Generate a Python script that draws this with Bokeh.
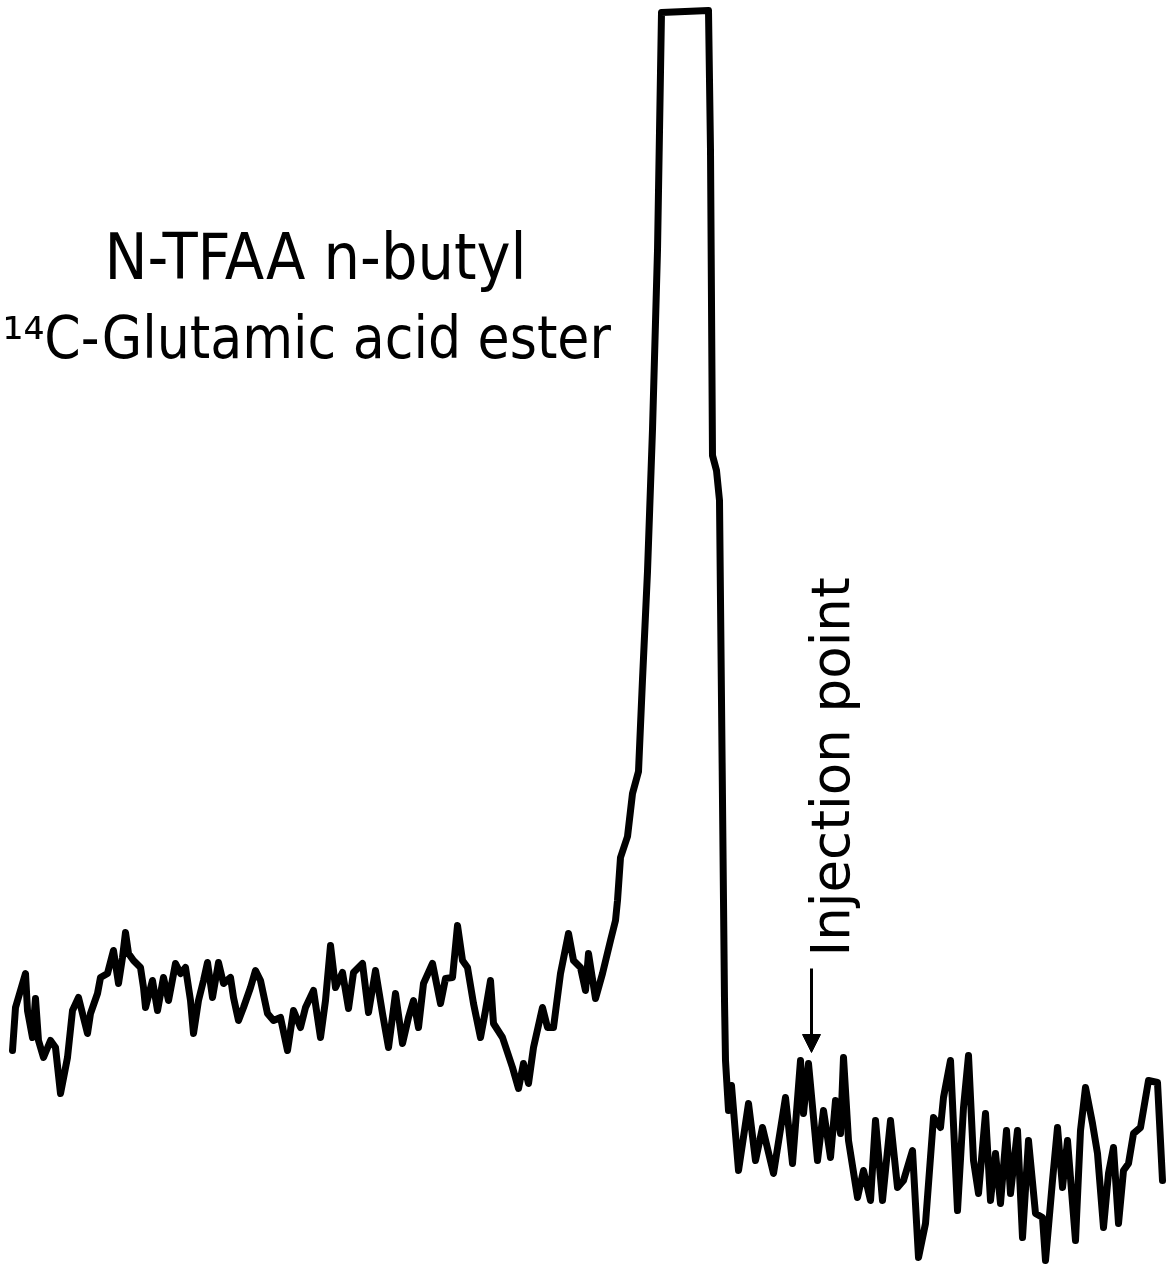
import math
from bokeh.plotting import figure
from bokeh.models import Range1d, Arrow, NormalHead
from bokeh.core.properties import value
from bokeh.embed import file_html
from bokeh.resources import INLINE

# Retention time (arbitrary chart units, left -> right)
time = [12, 15, 25, 27, 32, 35, 38, 43, 50, 55, 60, 67, 72, 78, 87, 90, 97, 100, 107, 113,
        118, 122, 125, 128, 133, 140, 143, 145, 152, 157, 163, 168, 175, 180, 185, 190, 193,
        198, 203, 207, 212, 218, 223, 230, 233, 238, 243, 250, 255, 260, 267, 273,
        280, 287, 293, 300, 305, 313, 320, 325, 330, 335, 342, 348, 353, 362, 368, 375, 382,
        388, 395, 402, 408, 413, 418, 423, 432, 440, 445, 452, 457, 462, 467, 473, 480, 485,
        490, 493, 502, 512, 518, 523, 528, 533, 542, 547, 553, 560, 568, 573, 580, 585, 588,
        595, 602, 610, 615, 617,
        620, 627, 632, 638, 642, 647, 652, 657, 661, 708, 710, 712, 716, 719, 721, 723, 724,
        725, 728, 731,
        738, 748, 755, 762, 773, 785, 792, 800, 803, 808, 817, 823, 830, 835, 840, 843, 848,
        857, 863, 870, 875, 882, 890, 897, 903, 912, 918, 925, 933,
        940, 943, 950, 957, 963, 968, 973, 978, 985, 990, 995, 1000, 1006, 1010, 1017, 1022,
        1028, 1035, 1042, 1045, 1052, 1057, 1062, 1067, 1075, 1080, 1085, 1092, 1097, 1103,
        1108, 1113, 1118, 1123, 1128, 1133, 1140, 1148, 1157, 1162]

# Recorder pen deflection (chart units, measured downward from the top of the paper)
deflection = [1050, 1007, 973, 1010, 1037, 998, 1040, 1057, 1040, 1047, 1093, 1057, 1010, 997,
              1033, 1013, 993, 977, 973, 950, 983, 957, 932, 953, 960, 967, 987, 1007, 980,
              1010, 977, 1000, 963, 973, 967, 1000, 1033, 1000, 980, 962, 997, 962, 983, 977,
              997, 1020, 1007, 987, 970, 980, 1013, 1020,
              1017, 1050, 1010, 1027, 1007, 990, 1037, 1000, 945, 987, 972, 1008, 972, 963,
              1012, 970, 1013, 1047, 993, 1043, 1017, 1000, 1027, 983, 963, 1003, 978, 977,
              925, 960, 967, 1003, 1037, 1010, 980, 1023, 1037, 1067, 1088, 1063, 1083, 1047,
              1007, 1027, 1027, 973, 933, 960, 967, 990, 953, 998, 973, 940, 920, 900,
              857, 836, 793, 771, 679, 571, 429, 250, 12, 10, 150, 455, 470, 500, 700, 900,
              1000, 1060, 1110, 1085,
              1170, 1103, 1160, 1127, 1173, 1097, 1163, 1060, 1113, 1063, 1160, 1110, 1157,
              1100, 1133, 1057, 1140, 1197, 1170, 1200, 1120, 1200, 1120, 1187, 1180, 1150,
              1257, 1223, 1117,
              1127, 1097, 1060, 1210, 1107, 1055, 1160, 1193, 1113, 1200, 1153, 1203, 1130,
              1193, 1130, 1237, 1140, 1213, 1217, 1260, 1180, 1127, 1187, 1140, 1240, 1130,
              1087, 1123, 1153, 1227, 1173, 1147, 1223, 1170, 1163, 1133, 1127, 1080, 1082,
              1180]

title_lines = ["N-TFAA n-butyl", "\u00b9\u2074C-Glutamic acid ester"]
marker_label = "Injection point"

p = figure(width=1175, height=1265, x_range=Range1d(0, 1175), y_range=Range1d(1265, 0),
           output_backend="svg", toolbar_location=None, min_border=0,
           x_axis_location=None, y_axis_location=None, background_fill_color="white",
           border_fill_color="white")
p.grid.visible = False
p.outline_line_color = None

p.line(time, deflection, line_color="black", line_width=7, line_join="round", line_cap="round")

cond = value("DejaVu Sans Condensed, DejaVu Sans")
font = value("DejaVu Sans")
p.text(x=[315], y=[256], text=[title_lines[0]], text_font=cond, text_font_size="64px",
       text_align="center", text_baseline="alphabetic", text_color="black")
p.text(x=[2], y=[337], text=[title_lines[1]], text_font=cond, text_font_size="58px",
       text_align="left", text_baseline="alphabetic", text_color="black")
p.text(x=[830], y=[956], text=[marker_label], text_font=font, text_font_size="53px",
       angle=math.pi / 2, text_align="left", text_baseline="alphabetic", text_color="black")

p.add_layout(Arrow(x_start=811, y_start=968, x_end=811, y_end=1052, line_width=3,
                   line_color="black",
                   end=NormalHead(size=18, fill_color="black", line_color="black")))

open("out.html", "w").write(file_html(p, INLINE))
